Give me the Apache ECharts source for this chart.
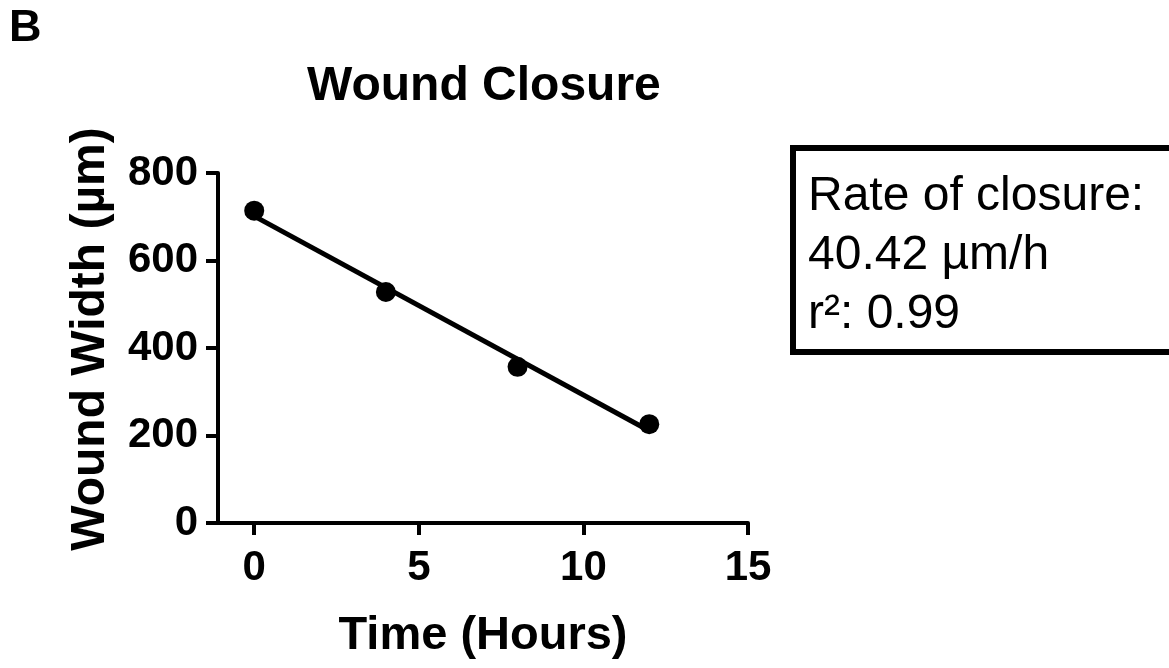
<!DOCTYPE html>
<html>
<head>
<meta charset="utf-8">
<script src="https://cdn.jsdelivr.net/npm/echarts@6/dist/echarts.min.js"></script>
<style>
html,body{margin:0;padding:0;background:#fff;}
#chart{width:1169px;height:668px;}
</style>
</head>
<body>
<div id="chart"></div>
<script>
const panelLabel = 'B';
const chartTitle = 'Wound Closure';
const xAxisTitle = 'Time (Hours)';
const yAxisTitle = 'Wound Width (µm)';
const hours = [0, 4, 8, 12];
const woundWidth = [714, 528, 357, 226];
const xTickValues = [0, 5, 10, 15];
const yTickValues = [0, 200, 400, 600, 800];
const boxLines = ['Rate of closure:', '40.42 µm/h', 'r²: 0.99'];

// least-squares fit computed from the data
const n = hours.length;
const mx = hours.reduce((a, b) => a + b, 0) / n;
const my = woundWidth.reduce((a, b) => a + b, 0) / n;
let sxy = 0, sxx = 0;
for (let i = 0; i < n; i++) { sxy += (hours[i] - mx) * (woundWidth[i] - my); sxx += (hours[i] - mx) ** 2; }
const slope = sxy / sxx;
const intercept = my - slope * mx;
const fitX = [hours[0], hours[n - 1]];
const fitData = fitX.map(x => [x, intercept + slope * x]);

const FONT = '"Liberation Sans", Arial, Helvetica, sans-serif';
const chart = echarts.init(document.getElementById('chart'), null, {renderer: 'canvas'});
const axisLineStyle = {color: '#000', width: 4};
chart.setOption({
  animation: false,
  backgroundColor: '#fff',
  title: {
    text: chartTitle,
    left: 302, top: 58,
    textStyle: {fontFamily: FONT, fontWeight: 'bold', fontSize: 48, color: '#000'}
  },
  grid: {left: 218, right: 421, top: 173, bottom: 145},
  xAxis: {
    type: 'value', min: -1.1, max: 15,
    axisLine: {show: true, onZero: false, lineStyle: axisLineStyle},
    axisTick: {show: true, customValues: xTickValues, length: 12, lineStyle: axisLineStyle},
    axisLabel: {customValues: xTickValues, fontFamily: FONT, fontWeight: 'bold', fontSize: 42, color: '#000', margin: 24},
    splitLine: {show: false},
    name: xAxisTitle, nameLocation: 'middle', nameGap: 90,
    nameTextStyle: {fontFamily: FONT, fontWeight: 'bold', fontSize: 47, color: '#000'}
  },
  yAxis: {
    type: 'value', min: 0, max: 800, interval: 200,
    axisLine: {show: true, onZero: false, lineStyle: axisLineStyle},
    axisTick: {show: true, length: 12, lineStyle: axisLineStyle},
    axisLabel: {fontFamily: FONT, fontWeight: 'bold', fontSize: 42, color: '#000', margin: 20},
    splitLine: {show: false},
    name: yAxisTitle, nameLocation: 'middle', nameGap: 103,
    nameTextStyle: {fontFamily: FONT, fontWeight: 'bold', fontSize: 48, color: '#000', padding: [0, 0, 0, 18]}
  },
  graphic: [
    {type: 'text', left: 9, top: 6, style: {text: panelLabel, font: 'bold 45px ' + FONT, fill: '#000'}},
    {type: 'rect', shape: {x: 793, y: 148, width: 420, height: 204}, style: {fill: '#fff', stroke: '#000', lineWidth: 6}},
    {type: 'text', x: 808, y: 167, style: {text: boxLines.join('\n'), font: '48px ' + FONT, fill: '#000', lineHeight: 59}}
  ],
  series: [
    {type: 'line', data: fitData, showSymbol: false, lineStyle: {color: '#000', width: 5}, z: 2},
    {type: 'scatter', data: hours.map((h, i) => [h, woundWidth[i]]), symbol: 'circle', symbolSize: 20, itemStyle: {color: '#000', opacity: 1}, z: 3}
  ]
});
</script>
</body>
</html>
